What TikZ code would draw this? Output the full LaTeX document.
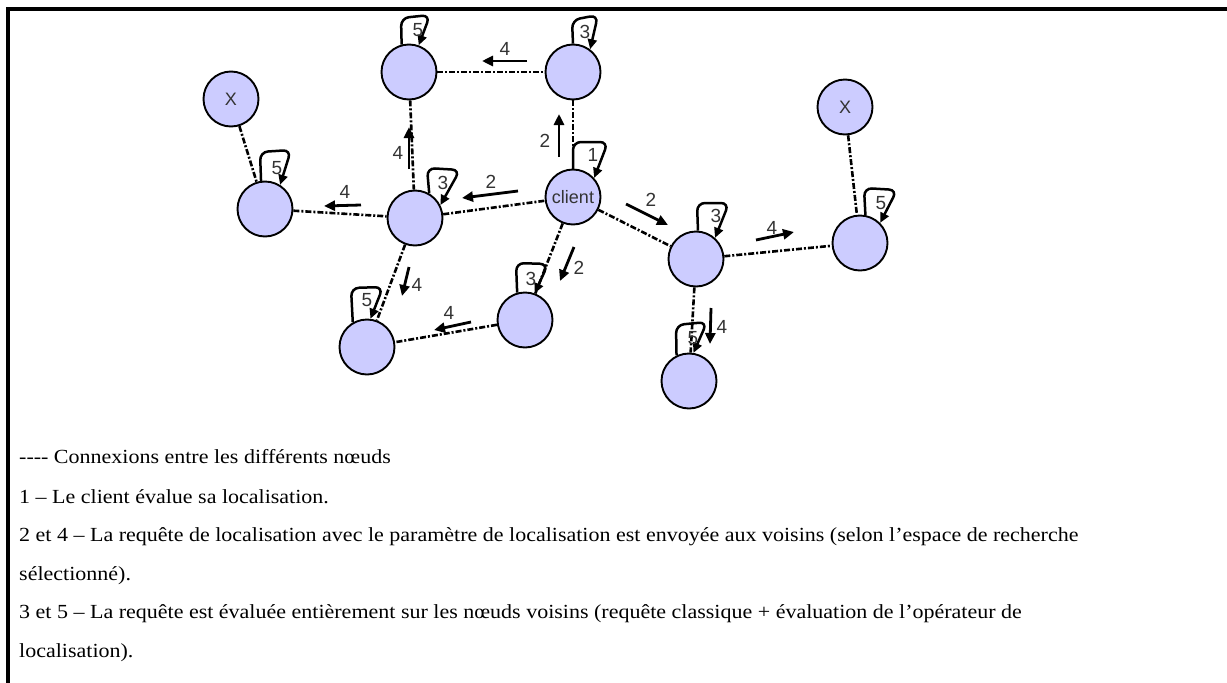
\documentclass[tikz,border=0pt]{standalone}
\usepackage{fontspec}
\setmainfont{Liberation Serif}[FakeStretch=1.1]
\newfontfamily\lsans{Liberation Sans}
\usetikzlibrary{arrows.meta}
\definecolor{nodefill}{RGB}{204,204,255}
\definecolor{labgray}{RGB}{51,51,51}
\tikzset{
  peer/.style={circle, draw=black, line width=1.9pt, fill=nodefill, minimum size=55pt, inner sep=0pt,
    font=\lsans\fontsize{18}{18}\selectfont, text=labgray},
  link/.style={line width=2.6pt, dash pattern=on 6pt off 2pt on 2pt off 2pt},
  steparrow/.style={line width=2.8pt, -{Triangle[length=11pt,width=10pt]}},
  selfloop/.style={line width=2.5pt, rounded corners=8pt, -{Triangle[length=10pt,width=9pt]}},
  numlab/.style={font=\lsans\fontsize{19}{19}\selectfont, text=labgray, inner sep=0pt},
  legend/.style={anchor=base west, inner sep=0pt, font=\fontsize{20}{24}\selectfont}
}
\begin{document}
\begin{tikzpicture}[x=1pt, y=-1pt]
\useasboundingbox (0,0) rectangle (1227,683);
% frame
\draw[line width=3.5pt] (8,683) -- (8,9) -- (1227,9);

% nodes
\node[peer] (n5t) at (409,72) {};
\node[peer] (n3t) at (573,72) {};
\node[peer] (xl) at (231,99) {X};
\node[peer] (n5l) at (265,209) {};
\node[peer] (n3m) at (415,218) {};
\node[peer] (cl) at (573,197) {client};
\node[peer] (n3r) at (696,259) {};
\node[peer] (xr) at (845,107) {X};
\node[peer] (n5r) at (860,243) {};
\node[peer] (n3b) at (525,320) {};
\node[peer] (n5bl) at (367,347) {};
\node[peer] (n5br) at (689,381) {};

% links
\draw[link] (n5t) -- (n3t);
\draw[link] (n5t) -- (n3m);
\draw[link] (n3t) -- (cl);
\draw[link] (xl) -- (n5l);
\draw[link] (n5l) -- (n3m);
\draw[link] (n3m) -- (cl);
\draw[link] (n3m) -- (n5bl);
\draw[link] (cl) -- (n3b);
\draw[link] (cl) -- (n3r);
\draw[link] (n3r) -- (n5r);
\draw[link] (xr) -- (n5r);
\draw[link] (n3r) -- (n5br);
\draw[link] (n3b) -- (n5bl);

% self loops
\draw[selfloop] (n5t.105) -- (401,18) -- (430,15) -- (n5t.70);
\node[numlab] at (418,30) {5};
\draw[selfloop] (n3t.90) -- (572,20) -- (598,15) -- (n3t.53);
\node[numlab] at (585,32) {3};
\draw[selfloop] (cl.90) -- (573,142) -- (608,142) -- (cl.42);
\node[numlab] at (593,155) {1};
\draw[selfloop] (n3m.60) -- (427,168) -- (460,170) -- (n3m.27);
\node[numlab] at (443,183) {3};
\draw[selfloop] (n5l.98) -- (260,152) -- (291,150) -- (n5l.58);
\node[numlab] at (277,168) {5};
\draw[selfloop] (n3r.86) -- (697,203) -- (729,203) -- (n3r.48);
\node[numlab] at (716,216) {3};
\draw[selfloop] (n5r.79) -- (864,188) -- (897,190) -- (n5r.45);
\node[numlab] at (881,203) {5};
\draw[selfloop] (n3b.106) -- (516,263) -- (548,264) -- (n3b.70);
\node[numlab] at (531,279) {3};
\draw[selfloop] (n5bl.120) -- (351,288) -- (383,287) -- (n5bl.83);
\node[numlab] at (367,300) {5};
\draw[selfloop] (n5br.116) -- (676,325) -- (707,322) -- (n5br.81);
\node[numlab] at (693,338) {5};

% step arrows
\draw[steparrow] (527,61) -- (482,61);
\node[numlab] at (505,49) {4};
\draw[steparrow] (559,157) -- (559,114);
\node[numlab] at (545,141) {2};
\draw[steparrow] (409,169) -- (409,127);
\node[numlab] at (398,153) {4};
\draw[steparrow] (361,205) -- (324,206);
\node[numlab] at (345,192) {4};
\draw[steparrow] (518,191) -- (462,198);
\node[numlab] at (491,182) {2};
\draw[steparrow] (626,204) -- (668,225);
\node[numlab] at (651,200) {2};
\draw[steparrow] (574,247) -- (560,281);
\node[numlab] at (579,268) {2};
\draw[steparrow] (756,240) -- (794,232);
\node[numlab] at (772,228) {4};
\draw[steparrow] (409,267) -- (402,296);
\node[numlab] at (417,285) {4};
\draw[steparrow] (471,322) -- (434,330);
\node[numlab] at (449,313) {4};
\draw[steparrow] (711,308) -- (710,344);
\node[numlab] at (722,327) {4};

% legend
\node[legend] (l1) at (19,463) {-{}-{}-{}- Connexions entre les différents nœuds};
\node[legend] (l2) at (19,503) {1 – Le client évalue sa localisation.};
\node[legend] (l3) at (19,541) {2 et 4 – La requête de localisation avec le paramètre de localisation est envoyée aux voisins (selon l’espace de recherche};
\node[legend] (l4) at (19,580) {sélectionné).};
\node[legend] (l5) at (19,618) {3 et 5 – La requête est évaluée entièrement sur les nœuds voisins (requête classique + évaluation de l’opérateur de};
\node[legend] (l6) at (19,657) {localisation).};
\end{tikzpicture}
\end{document}
